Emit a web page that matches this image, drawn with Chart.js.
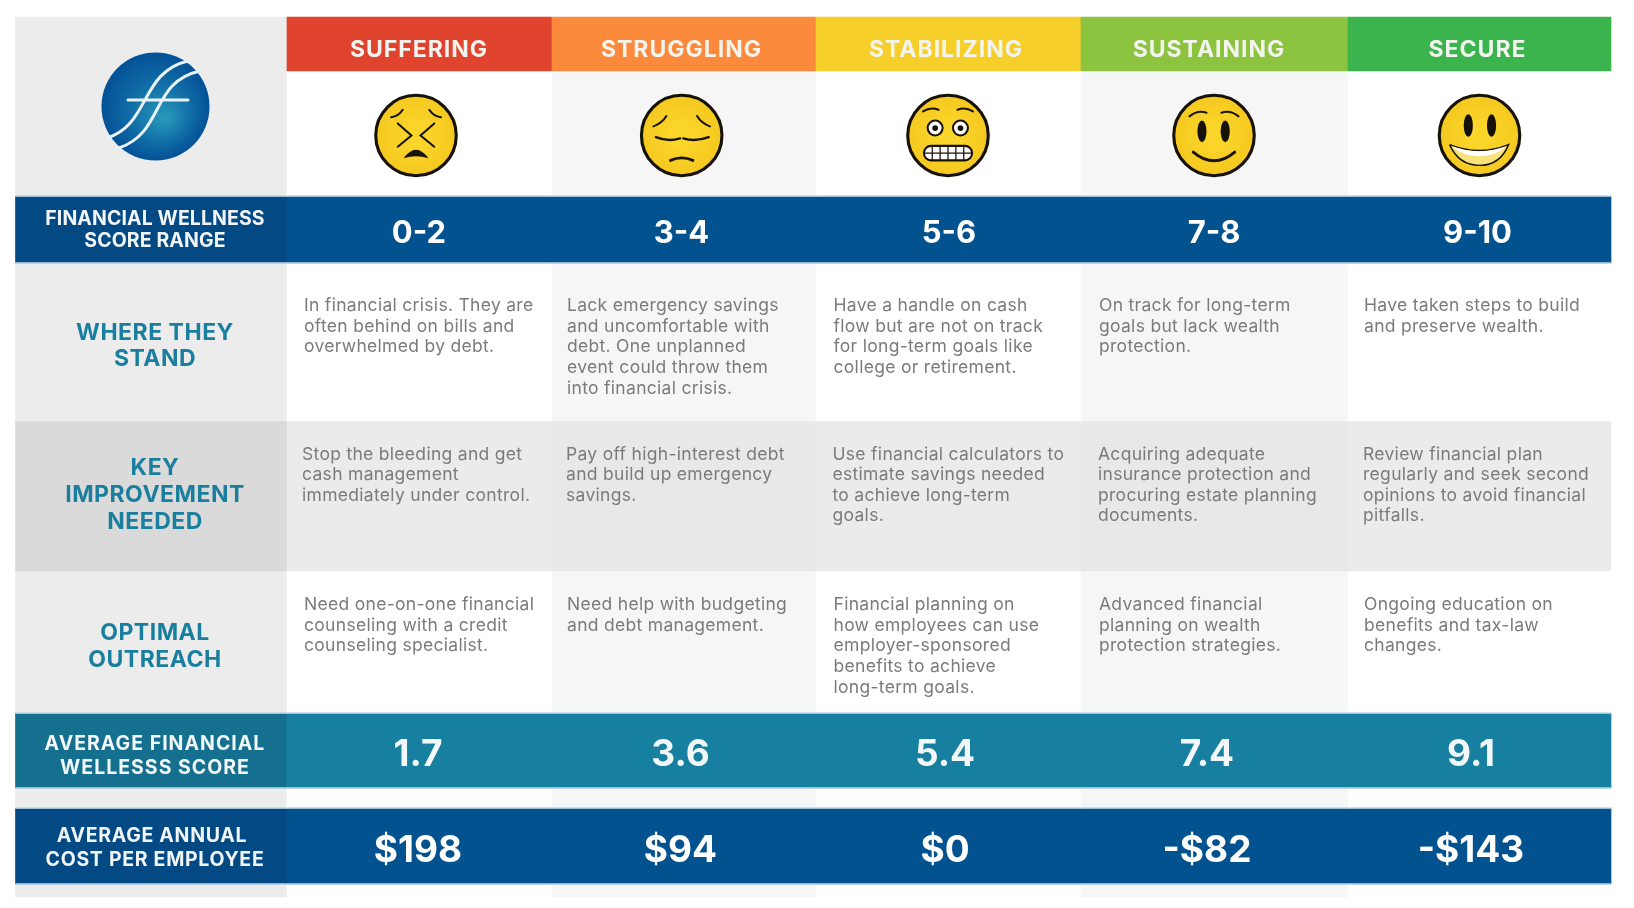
<!DOCTYPE html>
<html>
<head>
<meta charset="utf-8">
<title>Financial Wellness</title>
<script src="https://cdn.jsdelivr.net/npm/chart.js@4"></script>
<style>
  html, body { margin: 0; padding: 0; background: #fff; }
  #wrap { position: relative; width: 1634px; height: 908px; }
</style>
</head>
<body>
<div id="wrap"><canvas id="chart"></canvas></div>
<script>
// Datos de la tabla
const stages = ['SUFFERING', 'STRUGGLING', 'STABILIZING', 'SUSTAINING', 'SECURE'];
const scoreRanges = ['0-2', '3-4', '5-6', '7-8', '9-10'];
const averageScores = ['1.7', '3.6', '5.4', '7.4', '9.1'];
const annualCosts = ['$198', '$94', '$0', '-$82', '-$143'];
const rangeLabel = ['FINANCIAL WELLNESS', 'SCORE RANGE'];
const whereLabel = ['WHERE THEY', 'STAND'];
const keyLabel = ['KEY', 'IMPROVEMENT', 'NEEDED'];
const outreachLabel = ['OPTIMAL', 'OUTREACH'];
const scoreLabel = ['AVERAGE FINANCIAL', 'WELLESSS SCORE'];
const costLabel = ['AVERAGE ANNUAL', 'COST PER EMPLOYEE'];
const whereTheyStand = [
  ['In financial crisis. They are', 'often behind on bills and', 'overwhelmed by debt.'],
  ['Lack emergency savings', 'and uncomfortable with', 'debt. One unplanned', 'event could throw them', 'into financial crisis.'],
  ['Have a handle on cash', 'flow but are not on track', 'for long-term goals like', 'college or retirement.'],
  ['On track for long-term', 'goals but lack wealth', 'protection.'],
  ['Have taken steps to build', 'and preserve wealth.']
];
const keyImprovement = [
  ['Stop the bleeding and get', 'cash management', 'immediately under control.'],
  ['Pay off high-interest debt', 'and build up emergency', 'savings.'],
  ['Use financial calculators to', 'estimate savings needed', 'to achieve long-term', 'goals.'],
  ['Acquiring adequate', 'insurance protection and', 'procuring estate planning', 'documents.'],
  ['Review financial plan', 'regularly and seek second', 'opinions to avoid financial', 'pitfalls.']
];
const optimalOutreach = [
  ['Need one-on-one financial', 'counseling with a credit', 'counseling specialist.'],
  ['Need help with budgeting', 'and debt management.'],
  ['Financial planning on', 'how employees can use', 'employer-sponsored', 'benefits to achieve', 'long-term goals.'],
  ['Advanced financial', 'planning on wealth', 'protection strategies.'],
  ['Ongoing education on', 'benefits and tax-law', 'changes.']
];

// Retícula y estilos
const colEdges = [15.5, 287, 552, 816, 1081, 1348, 1611];
const headCenters = [419, 681.5, 946, 1209, 1477.5];
const rangeCenters = [419, 681.5, 949, 1214, 1477.5];
const scoreCenters = [418, 680.5, 945, 1207, 1471];
const faceCenters = [416, 681.7, 948, 1214, 1479.5];
const bodyLeft = [304, 567, 833.5, 1099, 1364];
const keyLeft = [302, 566, 832.5, 1098, 1363];
const rowStyles = [
  { top: 17, bottom: 71, colors: ['#ececec', '#e0442f', '#fb8a3c', '#f6cf2a', '#8cc43f', '#3bb44e'] },
  { top: 71, bottom: 196, colors: ['#ececec', '#ffffff', '#f6f6f6', '#ffffff', '#f6f6f6', '#ffffff'] },
  { top: 196, bottom: 263, colors: ['#034a84', '#02528f', '#02528f', '#02528f', '#02528f', '#02528f'] },
  { top: 263, bottom: 421, colors: ['#ececec', '#ffffff', '#f6f6f6', '#ffffff', '#f6f6f6', '#ffffff'] },
  { top: 421, bottom: 571, colors: ['#dadada', '#ebebeb', '#e8e8e8', '#ebebeb', '#e8e8e8', '#ebebeb'] },
  { top: 571, bottom: 713, colors: ['#ececec', '#ffffff', '#f6f6f6', '#ffffff', '#f6f6f6', '#ffffff'] },
  { top: 713, bottom: 788, colors: ['#14708e', '#177f9f', '#177f9f', '#177f9f', '#177f9f', '#177f9f'] },
  { top: 788, bottom: 808, colors: ['#ececec', '#ffffff', '#f6f6f6', '#ffffff', '#f6f6f6', '#ffffff'] },
  { top: 808, bottom: 884, colors: ['#034a84', '#02528f', '#02528f', '#02528f', '#02528f', '#02528f'] },
  { top: 884, bottom: 897, colors: ['#ececec', '#ffffff', '#f6f6f6', '#ffffff', '#f6f6f6', '#ffffff'] }
];
const edgeLines = [196, 263, 713, 788, 808, 884];

const FONT = 'Inter, "Noto Sans", sans-serif';
const TEAL = '#1a7f9e';
const GREY = '#7b7b7b';

const datasets = [{
  label: 'edges',
  data: edgeLines.map(y => ({ y, x: [colEdges[0], colEdges[6]] })),
  backgroundColor: '#bcd9ea',
  barThickness: 1,
  grouped: false,
  borderWidth: 0
}];
rowStyles.forEach(row => {
  datasets.push({
    label: 'row',
    data: row.colors.map((c, i) => ({ y: (row.top + row.bottom) / 2, x: [colEdges[i], colEdges[i + 1]] })),
    backgroundColor: row.colors,
    barThickness: row.bottom - row.top,
    grouped: false,
    borderWidth: 0
  });
});

// Dibuja un texto multilínea usando las escalas del gráfico
function drawLines(chart, lines, x, y, step, font, color, align, spacing) {
  const { ctx, scales } = chart;
  ctx.save();
  ctx.font = font;
  ctx.fillStyle = color;
  ctx.textAlign = align;
  ctx.textBaseline = 'middle';
  ctx.letterSpacing = spacing || '0px';
  lines.forEach((line, i) => {
    ctx.fillText(line, scales.x.getPixelForValue(x), scales.y.getPixelForValue(y + i * step));
  });
  ctx.restore();
}

function strokePath(ctx, width, fn, color) {
  ctx.beginPath();
  ctx.lineWidth = width;
  ctx.strokeStyle = color || '#1a1206';
  ctx.lineCap = 'round';
  fn();
  ctx.stroke();
}

// Caras, en unidades del radio
function drawFace(ctx, cx, cy, r, kind) {
  ctx.save();
  ctx.translate(cx, cy);
  ctx.scale(r, r);
  const g = ctx.createRadialGradient(0, 0, 0.2, 0, 0, 1);
  g.addColorStop(0, '#fbd62a');
  g.addColorStop(1, '#f5c81f');
  ctx.beginPath();
  ctx.arc(0, 0, 0.97, 0, Math.PI * 2);
  ctx.fillStyle = g;
  ctx.fill();
  ctx.lineWidth = 0.075;
  ctx.strokeStyle = '#16120a';
  ctx.stroke();
  const thin = 0.05;
  if (kind === 0) {
    strokePath(ctx, thin, () => { ctx.moveTo(-0.6, -0.44); ctx.quadraticCurveTo(-0.42, -0.46, -0.32, -0.62); ctx.moveTo(0.6, -0.44); ctx.quadraticCurveTo(0.42, -0.46, 0.32, -0.62); });
    strokePath(ctx, thin, () => { ctx.moveTo(-0.44, -0.29); ctx.lineTo(-0.11, 0); ctx.lineTo(-0.44, 0.27); ctx.moveTo(0.44, -0.29); ctx.lineTo(0.11, 0); ctx.lineTo(0.44, 0.27); });
    ctx.beginPath();
    ctx.moveTo(-0.3, 0.55);
    ctx.quadraticCurveTo(0, 0.14, 0.3, 0.55);
    ctx.quadraticCurveTo(0, 0.45, -0.3, 0.55);
    ctx.fillStyle = '#16120a';
    ctx.fill();
  } else if (kind === 1) {
    strokePath(ctx, thin, () => { ctx.moveTo(-0.68, -0.22); ctx.quadraticCurveTo(-0.47, -0.3, -0.37, -0.47); ctx.moveTo(0.68, -0.22); ctx.quadraticCurveTo(0.47, -0.3, 0.37, -0.47); });
    strokePath(ctx, 0.06, () => { ctx.moveTo(-0.62, 0.04); ctx.quadraticCurveTo(-0.33, 0.16, -0.04, 0.07); ctx.moveTo(0.65, 0.04); ctx.quadraticCurveTo(0.33, 0.16, 0.04, 0.07); });
    strokePath(ctx, 0.07, () => { ctx.moveTo(-0.27, 0.6); ctx.quadraticCurveTo(0, 0.48, 0.27, 0.6); });
  } else if (kind === 2) {
    strokePath(ctx, thin, () => { ctx.moveTo(-0.6, -0.58); ctx.quadraticCurveTo(-0.42, -0.7, -0.23, -0.62); ctx.moveTo(0.6, -0.58); ctx.quadraticCurveTo(0.42, -0.7, 0.23, -0.62); });
    [-0.31, 0.3].forEach(x => {
      ctx.beginPath();
      ctx.arc(x, -0.18, 0.18, 0, Math.PI * 2);
      ctx.fillStyle = '#fff';
      ctx.fill();
      ctx.lineWidth = 0.05;
      ctx.stroke();
      ctx.beginPath();
      ctx.arc(x, -0.18, 0.07, 0, Math.PI * 2);
      ctx.fillStyle = '#16120a';
      ctx.fill();
    });
    ctx.beginPath();
    ctx.roundRect(-0.58, 0.25, 1.16, 0.35, 0.17);
    ctx.fillStyle = '#fff';
    ctx.fill();
    ctx.lineWidth = 0.05;
    ctx.stroke();
    strokePath(ctx, 0.03, () => {
      ctx.moveTo(-0.58, 0.425); ctx.lineTo(0.58, 0.425);
      [-0.38, -0.19, 0, 0.19, 0.38].forEach(x => { ctx.moveTo(x, 0.26); ctx.lineTo(x, 0.59); });
    });
  } else if (kind === 3) {
    strokePath(ctx, thin, () => { ctx.moveTo(-0.59, -0.46); ctx.quadraticCurveTo(-0.4, -0.62, -0.18, -0.55); ctx.moveTo(0.59, -0.46); ctx.quadraticCurveTo(0.4, -0.62, 0.18, -0.55); });
    ctx.fillStyle = '#16120a';
    [-0.29, 0.27].forEach(x => { ctx.beginPath(); ctx.ellipse(x, -0.1, 0.11, 0.26, 0, 0, Math.PI * 2); ctx.fill(); });
    strokePath(ctx, 0.07, () => { ctx.moveTo(-0.5, 0.4); ctx.quadraticCurveTo(0, 0.82, 0.5, 0.4); });
  } else {
    ctx.fillStyle = '#16120a';
    [-0.27, 0.29].forEach(x => { ctx.beginPath(); ctx.ellipse(x, -0.24, 0.11, 0.27, 0, 0, Math.PI * 2); ctx.fill(); });
    ctx.beginPath();
    ctx.moveTo(-0.72, 0.22);
    ctx.quadraticCurveTo(0, 0.5, 0.7, 0.22);
    ctx.quadraticCurveTo(0.5, 0.72, 0, 0.72);
    ctx.quadraticCurveTo(-0.5, 0.72, -0.72, 0.22);
    ctx.fillStyle = '#f8e27a';
    ctx.fill();
    ctx.lineWidth = 0.035;
    ctx.stroke();
    ctx.beginPath();
    ctx.moveTo(-0.66, 0.26);
    ctx.quadraticCurveTo(0, 0.5, 0.64, 0.26);
    ctx.quadraticCurveTo(0.4, 0.5, 0, 0.5);
    ctx.quadraticCurveTo(-0.4, 0.5, -0.66, 0.26);
    ctx.fillStyle = '#fff';
    ctx.fill();
  }
  ctx.restore();
}

// Logotipo: círculo azul con la doble "f"
function drawLogo(chart) {
  const { ctx, scales } = chart;
  const px = v => scales.x.getPixelForValue(v);
  const py = v => scales.y.getPixelForValue(v);
  const cx = px(155.5);
  const cy = py(106.5);
  ctx.save();
  const g = ctx.createRadialGradient(cx + 10, cy + 12, 4, cx, cy, 55);
  g.addColorStop(0, '#2595b8');
  g.addColorStop(0.55, '#0f6aa5');
  g.addColorStop(1, '#035096');
  ctx.beginPath();
  ctx.arc(cx, cy, 54, 0, Math.PI * 2);
  ctx.fillStyle = g;
  ctx.fill();
  ctx.strokeStyle = '#e8f2f7';
  ctx.lineCap = 'round';
  ctx.lineWidth = 3;
  ctx.beginPath();
  ctx.moveTo(px(107), py(138));
  ctx.bezierCurveTo(px(150), py(125), px(140), py(72), px(188), py(61));
  ctx.moveTo(px(119), py(148));
  ctx.bezierCurveTo(px(165), py(132), px(150), py(82), px(200), py(71));
  ctx.moveTo(px(128), py(100));
  ctx.lineTo(px(188), py(100));
  ctx.stroke();
  ctx.restore();
}

const tablePlugin = {
  id: 'tablePlugin',
  afterDatasetsDraw(chart) {
    const head = '700 23px ' + FONT;
    const big = '700 31px ' + FONT;
    const huge = '700 37px ' + FONT;
    const bandLabel = '700 19.5px ' + FONT;
    const rowLabel = '700 23px ' + FONT;
    const body = '400 17.5px ' + FONT;

    drawLogo(chart);
    stages.forEach((stage, i) => {
      drawLines(chart, [stage], headCenters[i], 50, 0, head, '#f4f4ee', 'center', '1px');
      drawLines(chart, [scoreRanges[i]], rangeCenters[i], 233.5, 0, big, '#fff', 'center');
      drawLines(chart, [averageScores[i]], scoreCenters[i], 755, 0, huge, '#f2f7f9', 'center');
      drawLines(chart, [annualCosts[i]], scoreCenters[i], 851, 0, huge, '#fff', 'center');
      drawFace(chart.ctx, chart.scales.x.getPixelForValue(faceCenters[i]), chart.scales.y.getPixelForValue(135.5), 41.5, i);
      drawLines(chart, whereTheyStand[i], bodyLeft[i], 305.5, 20.8, body, GREY, 'left', '0.3px');
      drawLines(chart, keyImprovement[i], keyLeft[i], 454.5, 20.5, body, GREY, 'left', '0.3px');
      drawLines(chart, optimalOutreach[i], bodyLeft[i], 604.5, 20.8, body, GREY, 'left', '0.3px');
    });
    drawLines(chart, rangeLabel, 155, 219, 22, bandLabel, '#f2f5f8', 'center', '0.1px');
    drawLines(chart, whereLabel, 155, 333, 26.5, rowLabel, TEAL, 'center', '0.5px');
    drawLines(chart, keyLabel, 155, 468, 27.2, rowLabel, TEAL, 'center', '0.5px');
    drawLines(chart, outreachLabel, 155, 633.5, 27, rowLabel, TEAL, 'center', '0.5px');
    drawLines(chart, scoreLabel, 155, 744, 24, bandLabel, '#f2f7f9', 'center', '1px');
    drawLines(chart, [costLabel[0]], 152, 836, 0, bandLabel, '#f2f5f8', 'center', '0.7px');
    drawLines(chart, [costLabel[1]], 155, 860, 0, bandLabel, '#f2f5f8', 'center', '0.7px');
  }
};

new Chart(document.getElementById('chart'), {
  type: 'bar',
  data: { datasets },
  options: {
    indexAxis: 'y',
    responsive: true,
    maintainAspectRatio: false,
    animation: false,
    layout: { padding: 0 },
    plugins: { legend: { display: false }, tooltip: { enabled: false } },
    scales: {
      x: { type: 'linear', display: false, min: 0, max: 1634, offset: false },
      y: { type: 'linear', display: false, reverse: true, min: 0, max: 908, offset: false }
    }
  },
  plugins: [tablePlugin]
});
</script>
</body>
</html>
